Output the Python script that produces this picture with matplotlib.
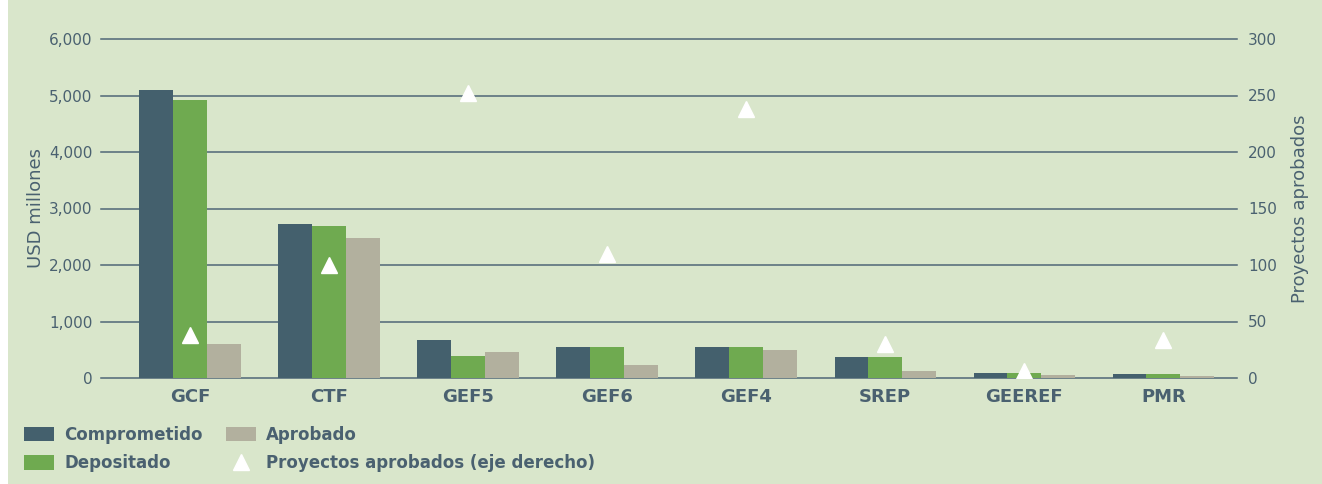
import numpy as np
import matplotlib
matplotlib.use("Agg")
import matplotlib.pyplot as plt
from matplotlib.patches import Patch, Rectangle
from matplotlib.lines import Line2D
import matplotlib.ticker as mticker

# ── data ─────────────────────────────────────────────────────────────────────
funds        = ["GCF", "CTF", "GEF5", "GEF6", "GEF4", "SREP", "GEEREF", "PMR"]
comprometido = [5100, 2730, 680, 550, 550, 370, 90, 70]
depositado   = [4920, 2690, 390, 550, 550, 370, 90, 70]
aprobado     = [600, 2480, 460, 230, 500, 120, 50, 35]
proyectos    = [38, 100, 252, 110, 238, 30, 6, 34]

# ── style ────────────────────────────────────────────────────────────────────
BG      = "#d9e6cb"
TXT     = "#4a6170"
GRID    = "#4f6777"
C_DARK  = "#44606d"
C_GREEN = "#6faa50"
C_GRAY  = "#b2b09e"

fig = plt.figure(figsize=(13.22, 4.84), dpi=100, facecolor=BG)
fig.patches.append(Rectangle((0, 0), 8 / 1322, 1, transform=fig.transFigure,
                             facecolor="white", edgecolor="none", zorder=-1))

ax = fig.add_axes([101 / 1322, 1 - 378 / 484, (1237 - 101) / 1322, (378 - 39) / 484])
ax.set_facecolor(BG)

x = np.arange(len(funds))
w = 0.243
ax.bar(x - w, comprometido, w, color=C_DARK, zorder=2)
ax.bar(x, depositado, w, color=C_GREEN, zorder=2)
ax.bar(x + w, aprobado, w, color=C_GRAY, zorder=2)

ax.set_xlim(-0.64, 7.53)
ax.set_ylim(0, 6000)
ax.set_yticks(np.arange(0, 6001, 1000))
ax.yaxis.set_major_formatter(mticker.StrMethodFormatter("{x:,.0f}"))
ax.grid(axis="y", color=GRID, linewidth=1.1, zorder=1)
for gl in ax.get_ygridlines():
    gl.set_clip_on(False)
ax.set_axisbelow(True)
for s in ax.spines.values():
    s.set_visible(False)
ax.tick_params(axis="y", length=0, pad=6, labelsize=11, labelcolor=TXT)
ax.tick_params(axis="x", length=0, pad=7)
ax.set_xticks(x)
ax.set_xticklabels(funds, fontsize=13, fontweight="bold", color=TXT)
ax.set_ylabel("USD millones", fontsize=13, color=TXT, labelpad=3)

ax2 = ax.twinx()
ax2.set_ylim(0, 300)
ax2.set_yticks(np.arange(0, 301, 50))
for s in ax2.spines.values():
    s.set_visible(False)
ax2.tick_params(axis="y", length=0, pad=8, labelsize=11, labelcolor=TXT)
ax2.plot(x, proyectos, linestyle="none", marker="^", markersize=11,
         color="white", markeredgecolor="white", zorder=5)
ax2.set_ylabel("Proyectos aprobados", fontsize=13, color=TXT, labelpad=10)

handles = [
    Patch(facecolor=C_DARK, label="Comprometido"),
    Patch(facecolor=C_GREEN, label="Depositado"),
    Patch(facecolor=C_GRAY, label="Aprobado"),
    Line2D([], [], linestyle="none", marker="^", markersize=11, color="white",
           label="Proyectos aprobados (eje derecho)"),
]
leg = fig.legend(handles=handles, ncol=2, loc="upper left",
                 bbox_to_anchor=(9 / 1322, 1 - 411 / 484), frameon=False,
                 prop={"size": 12, "weight": "bold"},
                 handlelength=1.8, handleheight=0.95, handletextpad=0.6,
                 columnspacing=1.4, labelspacing=0.62)
for t in leg.get_texts():
    t.set_color(TXT)

fig.savefig("out.png", dpi=100, facecolor=BG)
